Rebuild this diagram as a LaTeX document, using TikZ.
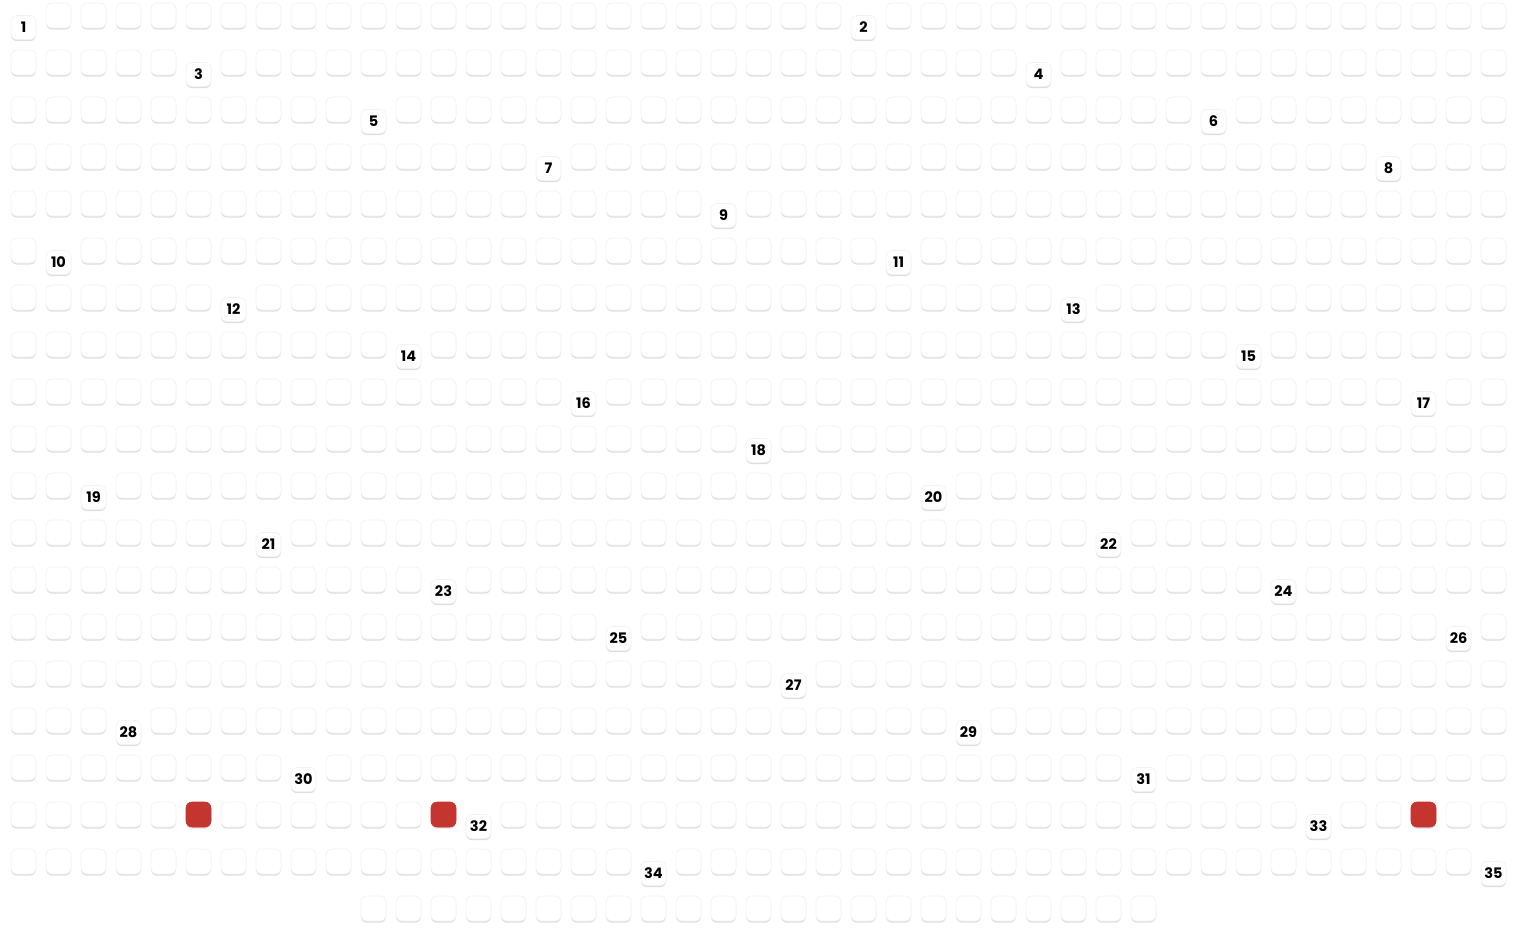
\documentclass[tikz,border=0pt]{standalone}
\usepackage{fontspec}
\setmainfont{Poppins}
\usetikzlibrary{shadows}
\definecolor{hotred}{HTML}{C4352F}

\begin{document}
\begin{tikzpicture}[
    x=1pt, y=-1pt,
    cell/.style={rectangle, rounded corners=6pt, minimum size=25pt,
                 inner sep=0pt, fill=white, draw=black!5, line width=.6pt,
                 drop shadow={shadow xshift=0pt, shadow yshift=-1.6pt,
                              fill=black, opacity=.13}},
    hotcell/.style={cell, fill=hotred, draw=hotred},
    tag/.style={cell, minimum height=24pt,
                font=\fontsize{14.5}{15}\selectfont\bfseries},
  ]
    % page
    \fill[white] (0,0) rectangle (1524,931);
    \useasboundingbox (0,0) rectangle (1524,931);

    % 840 cells, 43 per row, every 24th one carries a number
    \foreach \i in {0,...,839}{
      \pgfmathtruncatemacro{\row}{div(\i,43)}
      \pgfmathtruncatemacro{\col}{mod(\i,43)+(\row==19)*10}
      \pgfmathtruncatemacro{\tick}{mod(\i,24)}
      \pgfmathtruncatemacro{\num}{div(\i,24)+1}
      \pgfmathtruncatemacro{\hot}{(\i==736)+(\i==743)+(\i==771)}
      \ifnum\tick=0
        \node[tag] (t\num) at (23.5+35*\col, 27.5+47*\row) {\num};
      \else\ifnum\hot=1
        \node[hotcell] (c\i) at (23.5+35*\col, 15.5+47*\row) {};
      \else
        \node[cell] (c\i) at (23.5+35*\col, 15.5+47*\row) {};
      \fi\fi
    }
\end{tikzpicture}
\end{document}
